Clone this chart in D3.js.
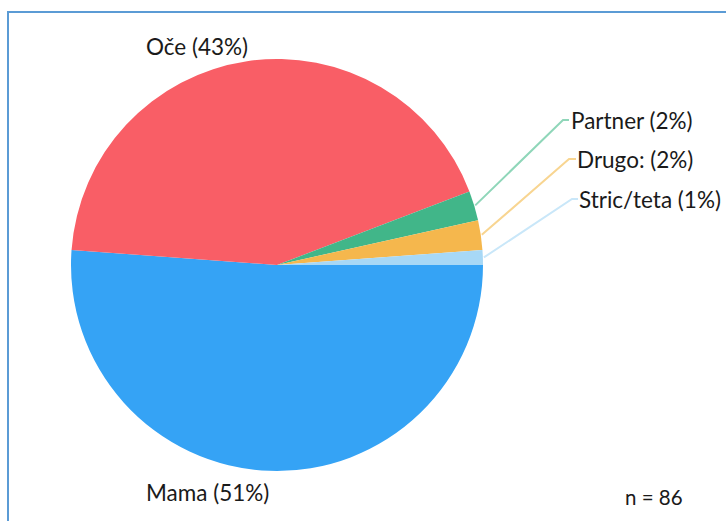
<!DOCTYPE html>
<html><head><meta charset="utf-8">
<script src="https://cdn.jsdelivr.net/npm/d3@7"></script>
<style>html,body{margin:0;padding:0;background:#fff;}svg{display:block;}</style>
</head><body>
<svg id="chart" width="726" height="521"></svg>
<script>
const categories = ["Mama", "Oče", "Partner", "Drugo:", "Stric/teta"];
const counts = [44, 37, 2, 2, 1];
const percentLabels = ["51%", "43%", "2%", "2%", "1%"];
const colors = ["#35a3f5", "#f95e66", "#41b689", "#f5b74d", "#a7d8f6"];
const leaderColors = ["#35a3f5", "#f95e66", "#8fd6b9", "#f8d591", "#c9e7f9"];
const nLabel = "n = 86";

const svg = d3.select("#chart");
const font = "Lato, 'Noto Sans', sans-serif";
const fs = 22.5;

svg.append("rect").attr("x", 8).attr("y", 12).attr("width", 760).attr("height", 560)
  .attr("fill", "none").attr("stroke", "#5b9bd5").attr("stroke-width", 2);

const cx = 277, cy = 265, R = 206;
const pie = d3.pie().value(d => d).sort(null)
  .startAngle(Math.PI / 2).endAngle(Math.PI / 2 + 2 * Math.PI);
const arcs = pie(counts);
const arc = d3.arc().innerRadius(0).outerRadius(R);

const g = svg.append("g").attr("transform", `translate(${cx},${cy})`);
g.selectAll("path.slice").data(arcs).enter().append("path")
  .attr("class", "slice")
  .attr("d", arc)
  .attr("fill", (d, i) => colors[i]);

const txt = (x, y, s, anchor) => svg.append("text").attr("x", x).attr("y", y)
  .attr("font-family", font).attr("font-size", fs).attr("fill", "#1a1a1a")
  .attr("text-anchor", anchor || "start").text(s);

// Big labels
txt(197, 55, `${categories[1]} (${percentLabels[1]})`, "middle");
txt(146, 501, `${categories[0]} (${percentLabels[0]})`);

// Small slices with leader lines
const leaderEnds = [null, null, [563, 120, 569, 571, 129], [569, 159, 576, 577, 168], [572, 199, 578, 579, 208]];
[2, 3, 4].forEach(i => {
  const a = arcs[i];
  const mid = (a.startAngle + a.endAngle) / 2;
  const r0 = R + 1;
  const x0 = cx + r0 * Math.sin(mid), y0 = cy - r0 * Math.cos(mid);
  const e = leaderEnds[i];
  svg.append("path")
    .attr("d", d3.line()([[x0, y0], [e[0], e[1]], [e[2], e[1]]]))
    .attr("fill", "none").attr("stroke", leaderColors[i]).attr("stroke-width", 2);
  txt(e[3], e[4], `${categories[i]} (${percentLabels[i]})`);
});

txt(625, 505, nLabel).attr("font-size", 20.5);
</script>
</body></html>
